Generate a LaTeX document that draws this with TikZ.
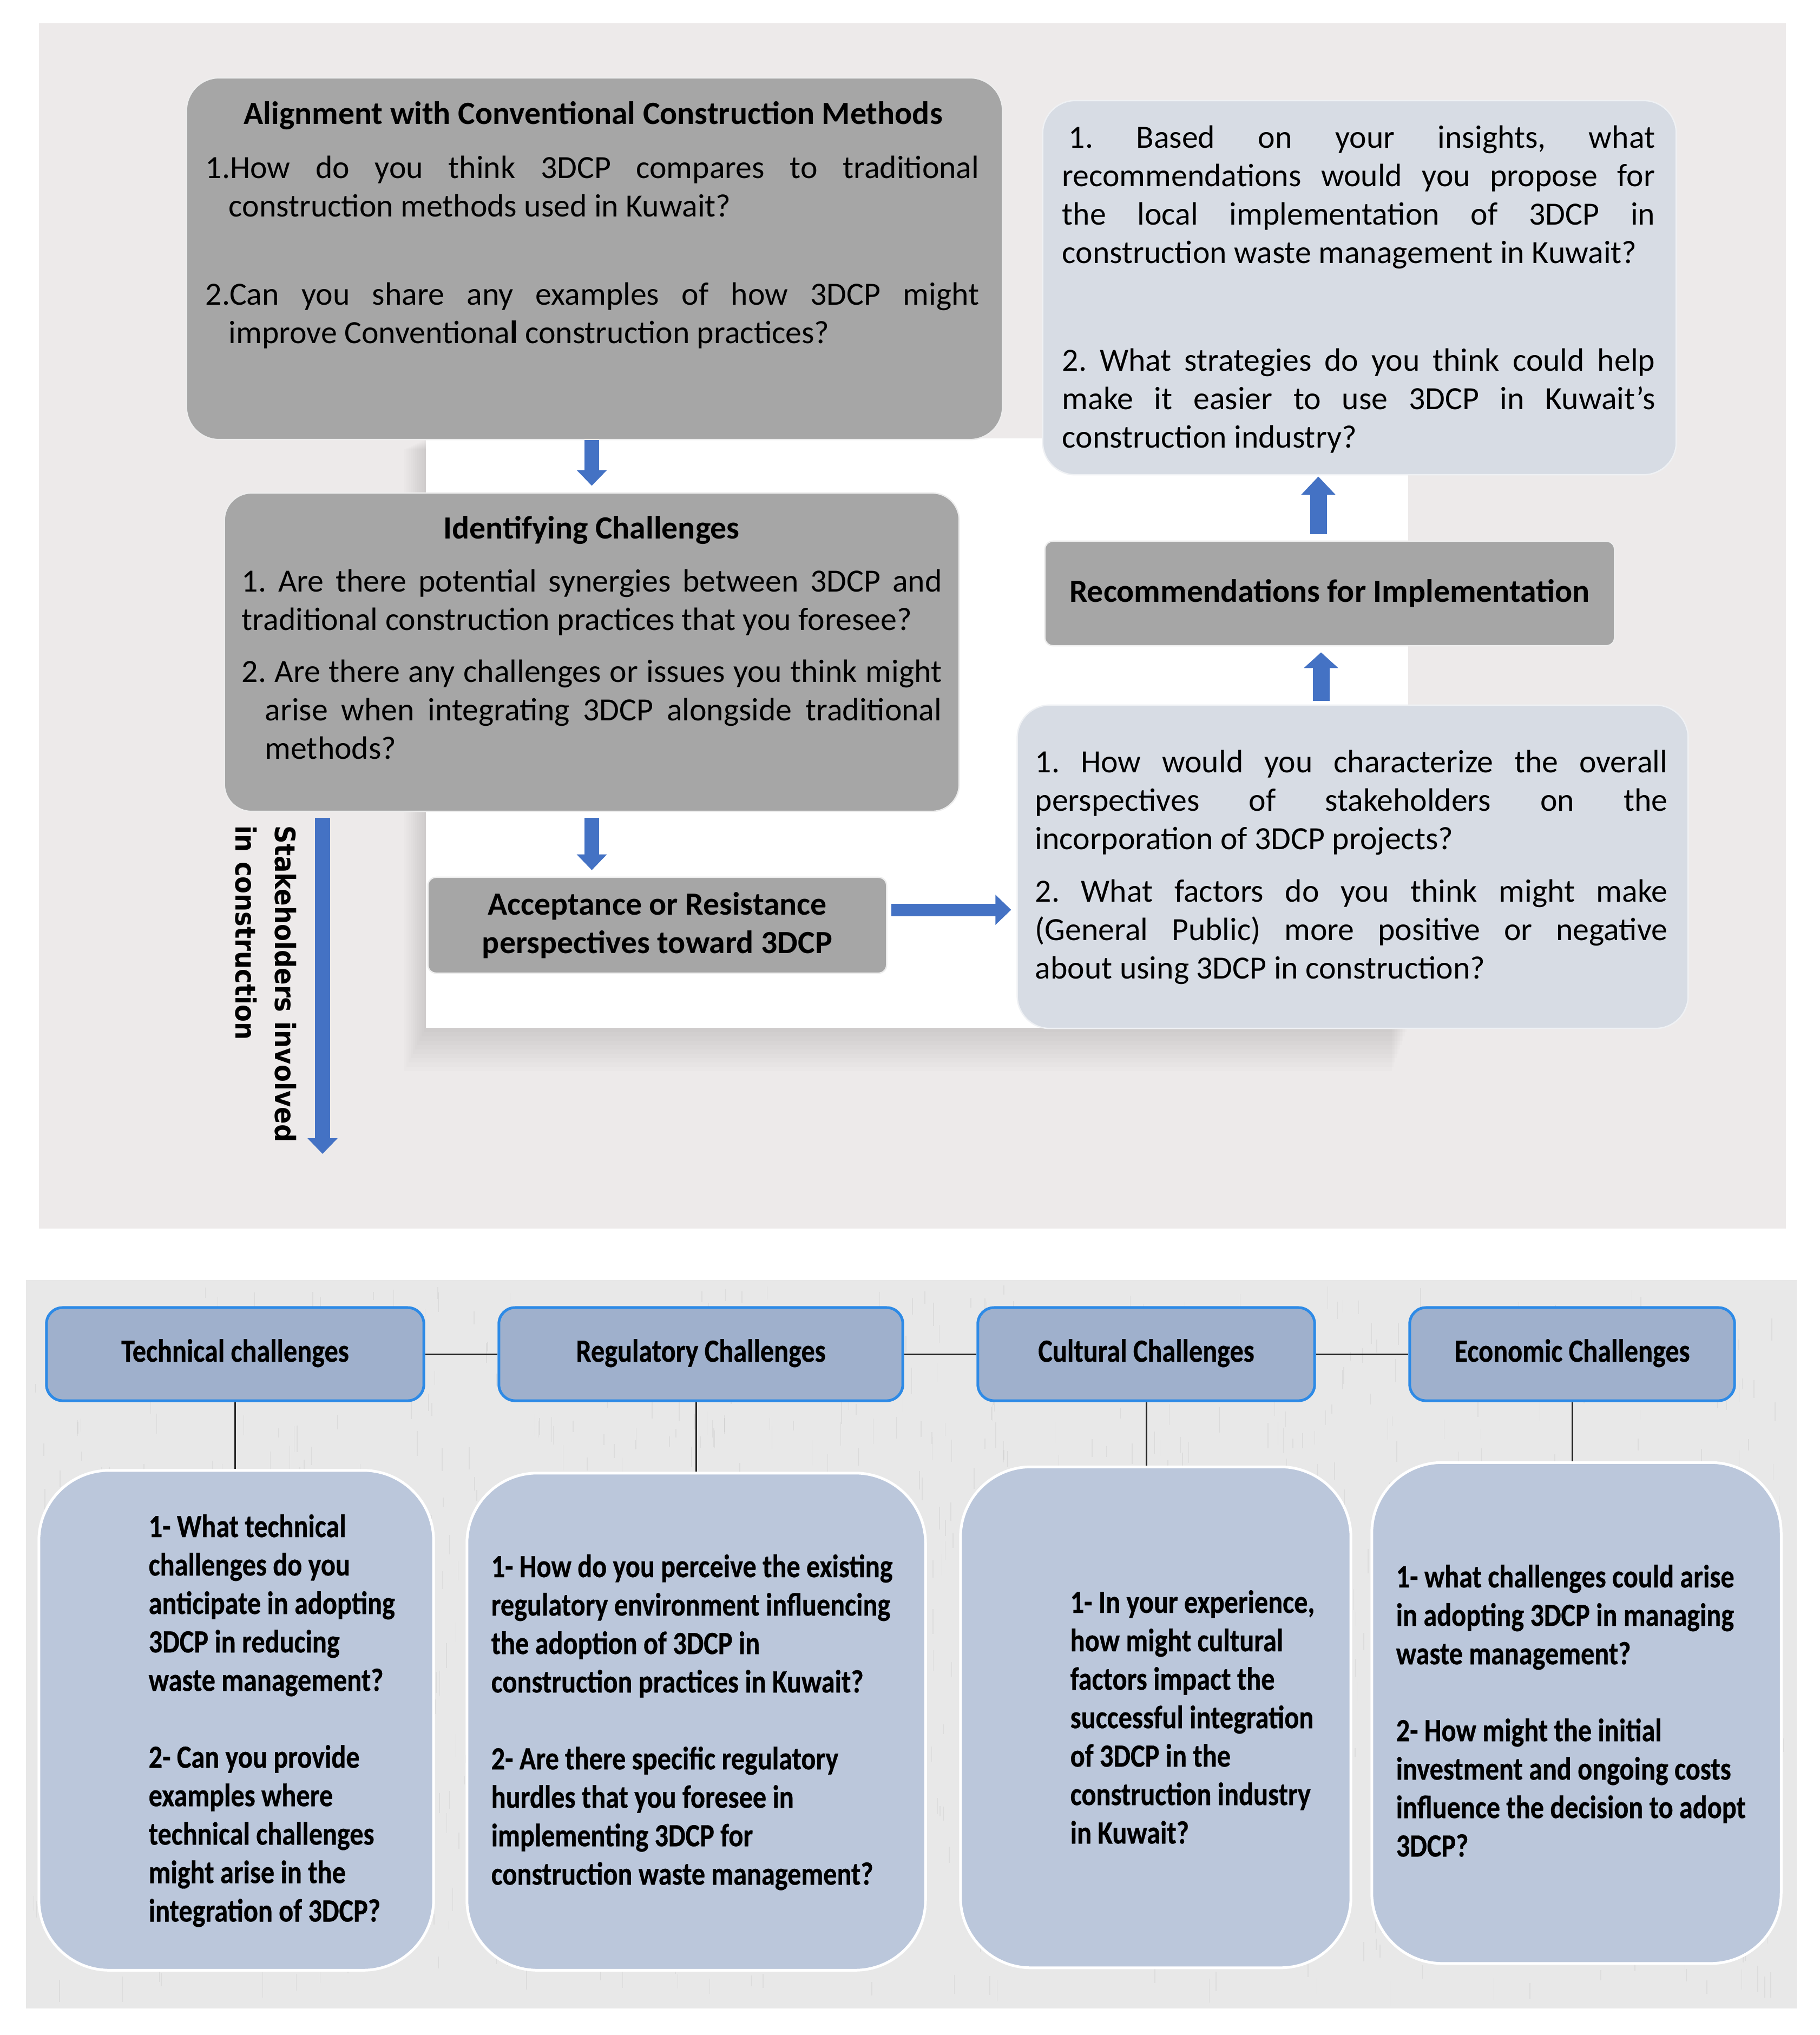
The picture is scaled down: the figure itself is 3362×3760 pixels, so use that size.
\documentclass[tikz,border=0pt]{standalone}
\usepackage{fontspec}
\setmainfont{Carlito}
\newfontfamily\condfont{Carlito}[FakeStretch=0.84,FakeBold=0.5]
\newfontfamily\stkfont{DejaVu Sans}[FakeStretch=0.9]
\usetikzlibrary{arrows.meta,calc}
\definecolor{topbg}{HTML}{EDEAEA}
\definecolor{botbg}{HTML}{E8E8E8}
\definecolor{boxgray}{HTML}{A6A6A6}
\definecolor{boxlight}{HTML}{D7DCE4}
\definecolor{arrowblue}{HTML}{4472C4}
\definecolor{hdrfill}{HTML}{9FB0CC}
\definecolor{hdrline}{HTML}{2D8AE6}
\definecolor{qfill}{HTML}{BBC7DB}
\newcommand\bodysize{\fontsize{17pt}{20.2pt}\selectfont\frenchspacing}
\tikzset{
  graybox/.style={fill=boxgray, draw=white!80!boxgray, line width=0.25mm, inner sep=0pt},
  lightbox/.style={fill=boxlight, draw=white!60!boxlight, line width=0.25mm, inner sep=0pt},
  bodytext/.style={inner sep=0pt, anchor=base west, align=justify, font=\bodysize},
  titletext/.style={inner sep=0pt, anchor=base, font=\bodysize\bfseries},
  barrow/.style={draw=arrowblue, line width=2.7mm, -{Triangle[width=5.4mm,length=2.9mm]}},
  hdr/.style={fill=hdrfill, draw=hdrline, line width=0.5mm, rounded corners=3mm, minimum height=17.2mm, inner sep=0pt, text height=11.5pt, text depth=3.5pt, font=\condfont\bfseries\bodysize},
  qbox/.style={fill=qfill, draw=white, line width=0.5mm, rounded corners=13mm, inner sep=0pt},
  qtext/.style={inner sep=0pt, anchor=base west, text width=90mm, align=left, font=\condfont\bfseries\bodysize, execute at begin node={\spaceskip=0pt\xspaceskip=0pt\relax}},
  thinline/.style={draw=black!85, line width=0.3mm},
  grain/.style={draw=black!30, line width=0.15mm, opacity=0.22},
}
\begin{document}
\begin{tikzpicture}[x=0.01cm,y=-0.01cm]
\useasboundingbox (0,0) rectangle (3362,3760);
\fill[white] (0,0) rectangle (3362,3760);
% top panel background
\fill[topbg] (72,43) rectangle (3300,2270);
\foreach \k in {1,...,10} \fill[black,opacity=0.012] (787-4*\k,810+2*\k) rectangle (2602-3*\k,1899+8*\k);
\fill[white] (787,810) rectangle (2602,1899);
% bottom panel background with light grain
\fill[botbg] (48,2365) rectangle (3320,3711);
\pgfmathsetseed{11}
\foreach \i in {1,...,1100} {
  \pgfmathsetmacro\gx{60+rnd*3240}
  \pgfmathsetmacro\gy{2375+rnd*1290}
  \pgfmathsetmacro\gl{15+rnd*35}
  \draw[grain] (\gx,\gy) -- ++(0,\gl);
}

% ---------- top boxes ----------
\node[graybox, rounded corners=6mm, minimum width=150.7mm, minimum height=66.8mm] (b1) at (1098.5,478) {};
\node[graybox, rounded corners=5mm, minimum width=135.7mm, minimum height=58.8mm] (b2) at (1093.5,1205) {};
\node[graybox, rounded corners=1.5mm, minimum width=84.7mm, minimum height=17.7mm, align=center, font=\bodysize\bfseries] (b3) at (1214.5,1709.5) {Acceptance or Resistance\\perspectives toward 3DCP};
\node[lightbox, rounded corners=6mm, minimum width=117mm, minimum height=69.1mm] (b4) at (2512,531.5) {};
\node[graybox, rounded corners=1.5mm, minimum width=105.2mm, minimum height=19.3mm, font=\bodysize\bfseries] (b5) at (2457,1096.5) {Recommendations for Implementation};
\node[lightbox, rounded corners=6mm, minimum width=123.9mm, minimum height=59.7mm] (b6) at (2499.5,1601.5) {};

% ---------- top texts ----------
\node[titletext] (t1) at (1096,229) {Alignment with Conventional Construction Methods};
\node[bodytext, text width=142.9mm] (p1) at (379,329) {\parindent0pt\parskip0pt\hangindent4.3mm\hangafter1 1.How do you think 3DCP compares to traditional\linebreak construction methods used in Kuwait?\par\vspace{9.2mm}\hangindent4.3mm\hangafter1 2.Can you share any examples of how 3DCP might\linebreak improve Conventiona\textbf{l} construction practices?\par};
\node[titletext] (t2) at (1093,995) {Identifying Challenges};
\node[bodytext, text width=129.3mm] (p2) at (446,1093) {\parindent0pt\parskip0pt 1. Are there potential synergies between 3DCP and\linebreak traditional construction practices that you foresee?\par\vspace{2.5mm}\hangindent4.3mm\hangafter1 2. Are there any challenges or issues you think might\linebreak arise when integrating 3DCP alongside traditional\linebreak methods?\par};
\node[bodytext, text width=109.5mm] (p4) at (1962,273) {\parindent0pt\parskip0pt\hspace*{1.2mm}1. Based on your insights, what\linebreak recommendations would you propose for\linebreak the local implementation of 3DCP in\linebreak construction waste management in Kuwait?\par\vspace{12.8mm}2. What strategies do you think could help\linebreak make it easier to use 3DCP in Kuwait's\linebreak construction industry?\par};
\node[bodytext, text width=116.8mm] (p6) at (1912,1427) {\parindent0pt\parskip0pt 1. How would you characterize the overall\linebreak perspectives of stakeholders on the\linebreak incorporation of 3DCP projects?\par\vspace{2.6mm}2. What factors do you think might make\linebreak (General Public) more positive or negative\linebreak about using 3DCP in construction?\par};
\node[rotate=-90, anchor=base west, inner sep=0pt, text width=80mm, align=left, font=\stkfont\bfseries\fontsize{14.7pt}{20.5pt}\selectfont] (stk) at (508,1525) {Stakeholders involved\\in construction};

% ---------- top arrows ----------
\coordinate (u1) at (2441,1250);
\coordinate (u2) at (2436,940);
\coordinate (r1) at (1750,1681);
\coordinate (stkend) at (596,2132);
\draw[barrow, shorten >=1.2mm] (b2.north |- b1.south) -- (b2.north);
\draw[barrow, shorten <=1.1mm, shorten >=1.2mm] (b2.south) -- (b2.south |- b3.north);
\draw[barrow, shorten <=1.1mm] (b2.south -| stkend) -- (stkend);
\draw[barrow, line width=2.3mm, shorten <=0.7mm, shorten >=1.0mm] (b3.east |- r1) -- (b6.west |- r1);
\draw[barrow, line width=3.1mm, -{Triangle[width=6.2mm,length=2.9mm]}, shorten <=0.7mm, shorten >=1.1mm] (b6.north -| u1) -- (b5.south -| u1);
\draw[barrow, line width=3.1mm, -{Triangle[width=6.2mm,length=3.4mm]}, shorten <=1.2mm, shorten >=0.2mm] (b5.north -| u2) -- (b4.south -| u2);

% ---------- bottom ----------
\node[hdr, minimum width=69.7mm] (h1) at (434.5,2502) {Technical challenges};
\node[hdr, minimum width=74.6mm] (h2) at (1295,2502) {Regulatory Challenges};
\node[hdr, minimum width=62.2mm] (h3) at (2118,2502) {Cultural Challenges};
\node[hdr, minimum width=60mm] (h4) at (2905,2502) {Economic Challenges};
\node[qbox, minimum width=72.9mm, minimum height=92.3mm] (q1) at (436.5,3178.5) {};
\node[qbox, minimum width=84.7mm, minimum height=91.8mm] (q2) at (1286.5,3181) {};
\node[qbox, minimum width=72.1mm, minimum height=92.5mm] (q3) at (2135.5,3173) {};
\node[qbox, minimum width=75.6mm, minimum height=92.5mm] (q4) at (2913,3165) {};
\draw[thinline] (h1) -- (h2);
\draw[thinline] (h2) -- (h3);
\draw[thinline] (h3) -- (h4);
\draw[thinline] (h1.south) -- (h1.south |- q1.north);
\draw[thinline] (q2.north |- h2.south) -- (q2.north);
\draw[thinline] (h3.south) -- (h3.south |- q3.north);
\draw[thinline] (h4.south) -- (h4.south |- q4.north);

\node[qtext] (x1) at (274,2840) {1- What technical\\challenges do you\\anticipate in adopting\\3DCP in reducing\\waste management?\\[20.2pt]2- Can you provide\\examples where\\technical challenges\\might arise in the\\integration of 3DCP?};
\node[qtext] (x2) at (907,2914) {1- How do you perceive the existing\\regulatory environment influencing\\the adoption of 3DCP in\\construction practices in Kuwait?\\[20.2pt]2- Are there specific regulatory\\hurdles that you foresee in\\implementing 3DCP for\\construction waste management?};
\node[qtext] (x3) at (1977,2980) {1- In your experience,\\how might cultural\\factors impact the\\successful integration\\of 3DCP in the\\construction industry\\in Kuwait?};
\node[qtext] (x4) at (2579,2933) {1- what challenges could arise\\in adopting 3DCP in managing\\waste management?\\[20.2pt]2- How might the initial\\investment and ongoing costs\\influence the decision to adopt\\3DCP?};
\end{tikzpicture}
\end{document}
